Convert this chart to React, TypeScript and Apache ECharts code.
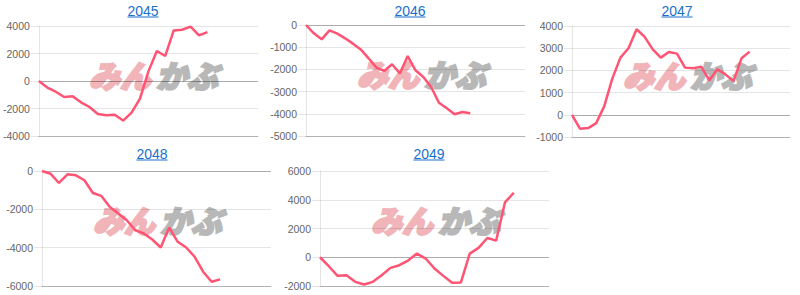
import React, { useEffect, useRef } from 'react';
import * as echarts from 'echarts';

// ---- data ----
const years = ['2045', '2046', '2047', '2048', '2049'];
const xCounts = [27, 29, 28, 28, 27];

const pnl2045 = [0, -480, -780, -1160, -1110, -1550, -1890, -2400, -2490, -2450, -2880, -2300, -1280, 700, 2180, 1820, 3680, 3730, 3950, 3320, 3560];
const pnl2046 = [0, -375, -645, -240, -390, -600, -840, -1100, -1500, -1920, -2070, -1770, -2180, -1400, -2040, -2340, -2790, -3500, -3750, -4020, -3920, -3980];
const pnl2047 = [0, -630, -600, -375, 390, 1640, 2575, 3000, 3855, 3510, 2950, 2575, 2830, 2755, 2125, 2095, 2170, 1550, 2050, 1820, 1520, 2545, 2845];
const pnl2048 = [0, -140, -625, -175, -225, -485, -1145, -1300, -1875, -2220, -2570, -3090, -3260, -3575, -3990, -2950, -3695, -3990, -4475, -5255, -5775, -5655];
const pnl2049 = [0, -625, -1295, -1250, -1710, -1895, -1710, -1250, -740, -555, -230, 255, -90, -785, -1295, -1780, -1755, 255, 650, 1340, 1155, 3815, 4485];

const seriesData = [pnl2045, pnl2046, pnl2047, pnl2048, pnl2049];
const yMins = [-4000, -5000, -1000, -6000, -2000];
const yMaxs = [4000, 0, 4000, 0, 6000];
const ySteps = [2000, 1000, 1000, 2000, 2000];

// ---- layout ----
const grids = [
  { left: 38, top: 26, width: 220, height: 110 },
  { left: 306, top: 25, width: 219, height: 111 },
  { left: 572, top: 26, width: 218, height: 111 },
  { left: 42, top: 171, width: 229, height: 115 },
  { left: 320, top: 171, width: 229, height: 115 },
];
const titlePos = [
  { x: 143, y: 11 },
  { x: 410, y: 11 },
  { x: 677, y: 11 },
  { x: 152, y: 154 },
  { x: 429, y: 154 },
];

const LINE_COLOR = '#ff5473';
const LINK_COLOR = '#1a6fcc';
const FONT = '"Liberation Sans", Arial, Helvetica, sans-serif';

export default function App() {
  const ref = useRef<HTMLDivElement>(null);

  useEffect(() => {
    if (!ref.current) return;
    const chart = echarts.init(ref.current, null, { renderer: 'svg' });

    const graphics: any[] = [];
    grids.forEach((g, i) => {
      const wx = g.left + 51;
      const wy = g.top + 48;
      graphics.push({
        type: 'text',
        x: wx,
        y: wy,
        z: 0,
        silent: true,
        style: {
          text: 'みん',
          fill: '#f0b4b9',
          stroke: '#f0b4b9',
          lineWidth: 2.2,
          font: 'italic 900 31px "Noto Sans CJK JP", sans-serif',
          textVerticalAlign: 'middle',
          textAlign: 'left',
        },
      });
      graphics.push({
        type: 'text',
        x: wx + 67,
        y: wy,
        z: 0,
        silent: true,
        style: {
          text: 'かぶ',
          fill: '#b8b8b8',
          stroke: '#b8b8b8',
          lineWidth: 2.2,
          font: 'italic 900 31px "Noto Sans CJK JP", sans-serif',
          textVerticalAlign: 'middle',
          textAlign: 'left',
        },
      });
      const t = titlePos[i];
      graphics.push({
        type: 'text',
        x: t.x,
        y: t.y,
        z: 5,
        style: {
          text: years[i],
          fill: LINK_COLOR,
          font: `14px ${FONT}`,
          textAlign: 'center',
          textVerticalAlign: 'middle',
        },
      });
      graphics.push({
        type: 'line',
        z: 5,
        shape: { x1: t.x - 15.5, y1: t.y + 6, x2: t.x + 15.5, y2: t.y + 6 },
        style: { stroke: LINK_COLOR, lineWidth: 1 },
      });
    });

    const option: any = {
      animation: false,
      backgroundColor: '#ffffff',
      grid: grids.map((g) => ({ ...g, containLabel: false })),
      xAxis: grids.map((_, i) => ({
        type: 'category',
        gridIndex: i,
        boundaryGap: false,
        data: Array.from({ length: xCounts[i] }, (_, k) => String(k + 1)),
        axisLabel: { show: false },
        axisTick: { show: false },
        axisLine: { show: true, onZero: false, lineStyle: { color: 'rgba(0,0,0,0.22)', width: 1 } },
        splitLine: { show: false },
      })),
      yAxis: grids.map((_, i) => ({
        type: 'value',
        gridIndex: i,
        min: yMins[i],
        max: yMaxs[i],
        interval: ySteps[i],
        axisLine: { show: true, lineStyle: { color: 'rgba(0,0,0,0.1)' } },
        axisTick: { show: true, length: 8, lineStyle: { color: 'rgba(0,0,0,0.1)' } },
        axisLabel: {
          color: '#666666',
          fontSize: 10.5,
          margin: 9,
          fontFamily: FONT,
          formatter: (v: number) => String(v),
        },
        splitLine: { show: true, lineStyle: { color: 'rgba(0,0,0,0.1)', width: 1 } },
      })),
      series: seriesData.map((d, i) => ({
        type: 'line',
        xAxisIndex: i,
        yAxisIndex: i,
        data: d,
        symbol: 'none',
        showSymbol: false,
        z: 3,
        lineStyle: { color: LINE_COLOR, width: 2.5 },
        markLine: {
          silent: true,
          symbol: ['none', 'none'],
          label: { show: false },
          lineStyle: { color: 'rgba(0,0,0,0.25)', type: 'solid', width: 1 },
          data: [{ yAxis: 0 }],
          z: 1,
        },
      })),
      graphic: graphics,
    };

    chart.setOption(option);
    return () => chart.dispose();
  }, []);

  return (
    <div
      ref={ref}
      style={{ position: 'fixed', left: 0, top: 0, width: 800, height: 295 }}
    />
  );
}
